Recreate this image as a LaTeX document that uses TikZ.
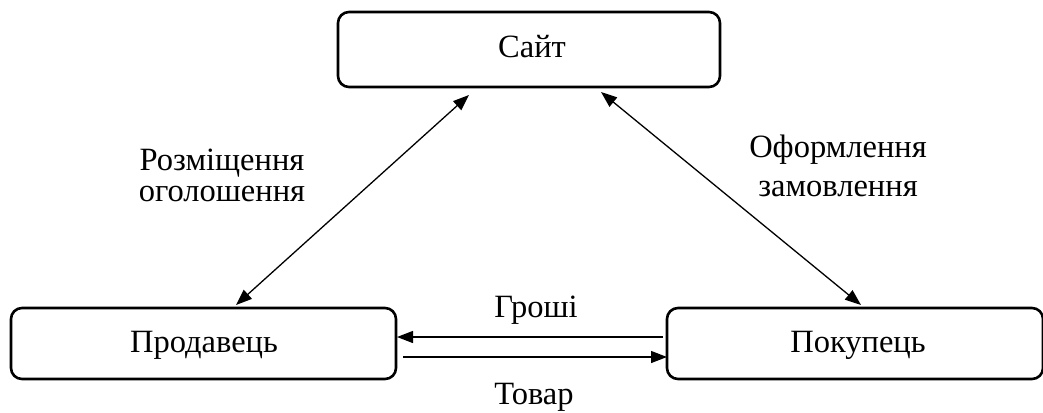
\documentclass[tikz,border=0pt]{standalone}
\usepackage{fontspec}
\setmainfont{Liberation Serif}
\usetikzlibrary{arrows.meta}
\begin{document}
\begin{tikzpicture}[x=1pt,y=-1pt,
  box/.style={draw, line width=2.6pt, rounded corners=11pt, inner sep=0pt},
  lbl/.style={font=\fontsize{32.5}{32.5}\selectfont, anchor=base, inner sep=0pt},
  conn/.style={line width=1.3pt, -{Triangle[length=16pt,width=12pt]}},
  biconn/.style={line width=1.3pt, {Triangle[length=16pt,width=12pt]}-{Triangle[length=16pt,width=12pt]}}]
\useasboundingbox (0,0) rectangle (1043,412);
\node[box, minimum width=382pt, minimum height=75pt] (site) at (529,49.5) {};
\node[box, minimum width=385pt, minimum height=71pt] (seller) at (203.5,343.5) {};
\node[box, minimum width=376pt, minimum height=71pt] (buyer) at (855,343.5) {};
\node[lbl] (tsite) at (532,57) {Сайт};
\node[lbl] (tseller) at (204,352) {Продавець};
\node[lbl] (tbuyer) at (858,352) {Покупець};
\node[lbl] (l1a) at (222,170) {Розміщення};
\node[lbl] (l1b) at (222,201) {оголошення};
\node[lbl] (l2a) at (838,157) {Оформлення};
\node[lbl] (l2b) at (838,196) {замовлення};
\node[lbl] (money) at (536,317) {Гроші};
\node[lbl] (goods) at (534,404) {Товар};
\coordinate (a1) at (469,95);
\coordinate (a2) at (236,305);
\coordinate (b1) at (601,92);
\coordinate (b2) at (861,305);
\coordinate (m1) at (663,337);
\coordinate (m2) at (397,337);
\coordinate (g1) at (403,357);
\coordinate (g2) at (667,357);
\draw[biconn] (a2) -- (a1);
\draw[biconn] (b1) -- (b2);
\draw[conn] (m1) -- (m2);
\draw[conn] (g1) -- (g2);
\end{tikzpicture}
\end{document}
